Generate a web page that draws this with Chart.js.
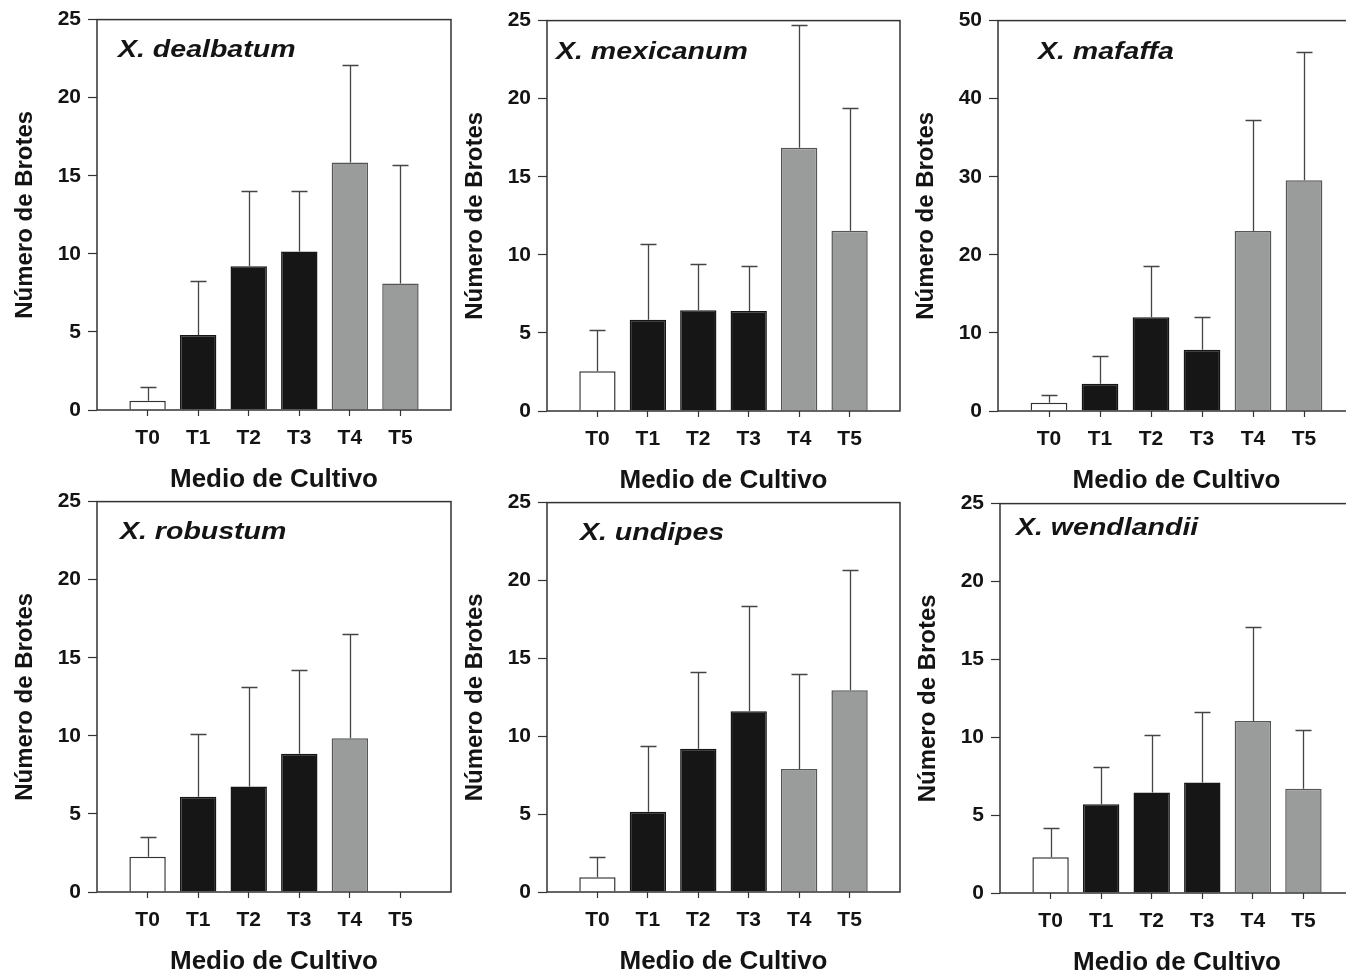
<!DOCTYPE html>
<html>
<head>
<meta charset="utf-8">
<script src="https://cdn.jsdelivr.net/npm/chart.js@4.4.1/dist/chart.umd.min.js"></script>
<style>
  html, body { margin: 0; padding: 0; background: #fff; }
  body { position: relative; width: 1346px; height: 979px; overflow: hidden; }
  canvas { position: absolute; }
</style>
</head>
<body>
<script>
// treatments (culture media)
var categories = ['T0', 'T1', 'T2', 'T3', 'T4', 'T5'];

// mean number of shoots and error (upper bar) per species
var dealbatumMean  = [0.6, 4.8, 9.2, 10.15, 15.85, 8.1];
var dealbatumErr   = [0.85, 3.45, 4.85, 3.9, 6.25, 7.6];
var mexicanumMean  = [2.55, 5.85, 6.45, 6.4, 16.85, 11.55];
var mexicanumErr   = [2.65, 4.85, 2.95, 2.9, 7.9, 7.85];
var mafaffaMean    = [1.05, 3.5, 12.0, 7.85, 23.05, 29.55];
var mafaffaErr     = [0.95, 3.6, 6.6, 4.25, 14.25, 16.45];
var robustumMean   = [2.25, 6.1, 6.75, 8.85, 9.85, null];
var robustumErr    = [1.25, 4.0, 6.4, 5.35, 6.7, null];
var undipesMean    = [0.95, 5.15, 9.2, 11.6, 7.9, 12.95];
var undipesErr     = [1.3, 4.25, 4.9, 6.75, 6.1, 7.7];
var wendlandiiMean = [2.3, 5.7, 6.45, 7.1, 11.05, 6.7];
var wendlandiiErr  = [1.9, 2.4, 3.7, 4.5, 6.05, 3.75];

// y axis ranges
var yMaxes  = [25, 25, 50, 25, 25, 25];
var ySteps  = [5, 5, 10, 5, 5, 5];

var speciesNames = ['X. dealbatum', 'X. mexicanum', 'X. mafaffa', 'X. robustum', 'X. undipes', 'X. wendlandii'];
var means = [dealbatumMean, mexicanumMean, mafaffaMean, robustumMean, undipesMean, wendlandiiMean];
var errs  = [dealbatumErr, mexicanumErr, mafaffaErr, robustumErr, undipesErr, wendlandiiErr];

// canvas boxes: left, top, width, height, label offset (dx, dy) from plot corner
var boxes = [
  [0, 0, 461, 495, 21, 37],
  [450, 1, 460, 495, 9, 38],
  [901, 1, 464, 495, 40, 38],
  [0, 482, 461, 495, 23, 37],
  [450, 483, 460, 494, 33, 37],
  [903, 484, 461, 494, 16, 31]
];

var FONT = "'Liberation Sans', Arial, Helvetica, sans-serif";
var INK = '#141414';
var LINE = '#333333';
var fillColors = ['#ffffff', '#161616', '#161616', '#161616', '#9a9b9b', '#9a9b9b'];
var edgeColors = ['#333333', '#161616', '#161616', '#161616', '#555555', '#555555'];

// frame around the plot area, error bars and species name
var panelPlugin = {
  id: 'panel',
  afterDatasetsDraw: function(chart, args, opts) {
    var ctx = chart.ctx, a = chart.chartArea;
    var meta = chart.getDatasetMeta(0);
    var y = chart.scales.y;
    ctx.save();
    ctx.strokeStyle = '#444';
    ctx.lineWidth = 1.3;
    opts.err.forEach(function(e, i) {
      var m = opts.mean[i];
      if (m == null || e == null) return;
      var bar = meta.data[i + 1];
      var x = Math.round(bar.x) + 0.5;
      var y0 = y.getPixelForValue(m);
      var y1 = Math.round(y.getPixelForValue(m + e)) + 0.5;
      ctx.beginPath();
      ctx.moveTo(x, y0);
      ctx.lineTo(x, y1);
      ctx.moveTo(x - 8, y1);
      ctx.lineTo(x + 8, y1);
      ctx.stroke();
    });
    ctx.strokeStyle = LINE;
    ctx.lineWidth = 1.5;
    ctx.strokeRect(a.left, a.top, a.right - a.left, a.bottom - a.top);
    ctx.translate(a.left + opts.dx, a.top + opts.dy);
    ctx.scale(1.24, 1);
    ctx.fillStyle = INK;
    ctx.font = 'italic bold 23px ' + FONT;
    ctx.textBaseline = 'alphabetic';
    ctx.fillText(opts.name, 0, 0);
    ctx.restore();
  }
};

function padded(arr) {
  return [null].concat(arr, [null]);
}

for (var p = 0; p < 6; p++) {
  var b = boxes[p];
  var cv = document.createElement('canvas');
  cv.width = b[2]; cv.height = b[3];
  cv.style.left = b[0] + 'px'; cv.style.top = b[1] + 'px';
  cv.style.width = b[2] + 'px'; cv.style.height = b[3] + 'px';
  document.body.appendChild(cv);

  new Chart(cv.getContext('2d'), {
    type: 'bar',
    data: {
      labels: padded(categories).map(function(c) { return c || ''; }),
      datasets: [{
        data: padded(means[p]),
        backgroundColor: padded(fillColors),
        borderColor: padded(edgeColors),
        borderWidth: 1.5,
        barPercentage: 0.72,
        categoryPercentage: 1
      }]
    },
    options: {
      responsive: false,
      animation: false,
      devicePixelRatio: 1,
      layout: { padding: { top: 18, right: 3, left: 0, bottom: 0 } },
      plugins: {
        legend: { display: false },
        tooltip: { enabled: false },
        panel: { mean: means[p], err: errs[p], name: speciesNames[p], dx: b[4], dy: b[5] }
      },
      scales: {
        x: {
          offset: false,
          grid: {
            offset: false,
            drawOnChartArea: false,
            drawTicks: true,
            tickLength: 6,
            tickColor: function(c) { return (c.index === 0 || c.index === 7) ? 'rgba(0,0,0,0)' : LINE; },
            tickWidth: 1.2
          },
          border: { display: false },
          ticks: { color: INK, font: { family: FONT, size: 21, weight: 'bold' }, padding: 10, autoSkip: false, maxRotation: 0 },
          title: { display: true, text: 'Medio de Cultivo', color: INK, font: { family: FONT, size: 26, weight: 'bold' }, padding: 0 },
          afterFit: function(s) { s.height = 85; }
        },
        y: {
          min: 0,
          max: yMaxes[p],
          ticks: { stepSize: ySteps[p], color: INK, font: { family: FONT, size: 21, weight: 'bold' }, padding: 7 },
          grid: { drawOnChartArea: false, drawTicks: true, tickLength: 9, tickColor: LINE, tickWidth: 1.2 },
          border: { display: false },
          title: { display: true, text: 'Número de Brotes', color: INK, font: { family: FONT, size: 24, weight: 'bold' }, padding: { top: 11, bottom: 0 } },
          afterFit: function(s) { s.width = 97; }
        }
      }
    },
    plugins: [panelPlugin]
  });
}
</script>
</body>
</html>
